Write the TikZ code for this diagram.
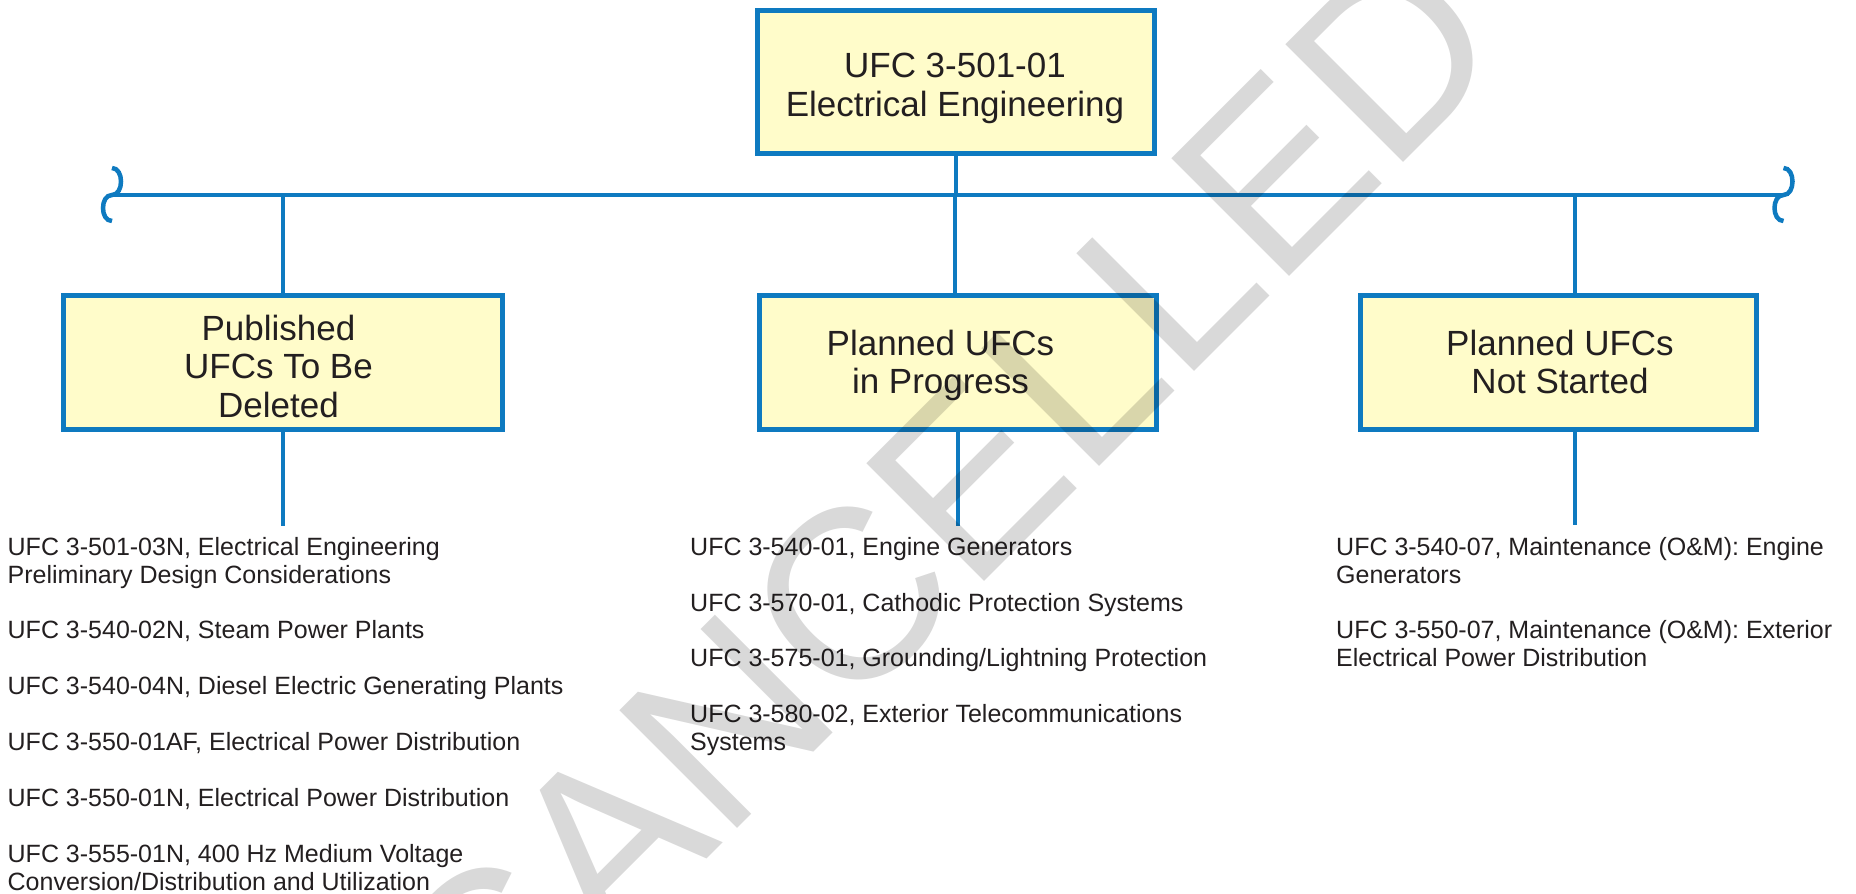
\documentclass[tikz,border=0pt]{standalone}
\usepackage{fontspec}
\setmainfont{Liberation Sans}
\definecolor{ufcblue}{HTML}{0E7AC0}
\definecolor{ufcfill}{HTML}{FFFCCA}
\definecolor{ufctext}{HTML}{231F20}
\tikzset{
  ufcbox/.style={draw=ufcblue, line width=5pt, fill=ufcfill, rectangle, inner sep=0pt},
  boxlabel/.style={anchor=north, inner sep=0pt, align=center, text=ufctext, font=\fontsize{35}{38.5}\selectfont},
  listtext/.style={anchor=north west, inner sep=0pt, align=left, text=ufctext, font=\fontsize{25}{27.9}\selectfont},
  conn/.style={draw=ufcblue, line width=4.5pt},
  bracecurl/.style={draw=ufcblue, line width=4.5pt},
  watermark/.style={font=\fontsize{242}{242}\selectfont, text=black, text opacity=0.15, rotate=45, anchor=base west, inner sep=0pt}
}
\begin{document}
\begin{tikzpicture}[x=1pt,y=-1pt]
\useasboundingbox (0,0) rectangle (1856,894);
\clip (0,0) rectangle (1856,894);
\fill[white] (0,0) rectangle (1856,894);

% boxes
\node[ufcbox, minimum width=397pt, minimum height=143pt] (root) at (956,82) {};
\node[ufcbox, minimum width=439.6pt, minimum height=134.6pt] (pub) at (283,362.5) {};
\node[ufcbox, minimum width=396.4pt, minimum height=134pt] (prog) at (958,362.2) {};
\node[ufcbox, minimum width=396pt, minimum height=134pt] (nots) at (1558.8,362.2) {};

% box texts
\node[boxlabel] (roott) at (955,47.3) {\rule{0pt}{30pt}UFC 3-501-01\\Electrical Engineering};
\node[boxlabel] (pubt) at (278.5,310) {\rule{0pt}{30pt}Published\\UFCs To Be\\Deleted};
\node[boxlabel] (progt) at (940.5,325) {\rule{0pt}{30pt}Planned UFCs\\in Progress};
\node[boxlabel] (notst) at (1560,325) {\rule{0pt}{30pt}Planned UFCs\\Not Started};

% bar and braces
\coordinate (bl) at (112,195);
\coordinate (br) at (1783.5,195);
\draw[conn] (bl) -- (br);
\draw[bracecurl] (112,168) .. controls (124,168) and (124,195) .. (bl) .. controls (100,195) and (100,221) .. (112,221);
\draw[bracecurl] (1783.5,168) .. controls (1795.5,168) and (1795.5,195) .. (br) .. controls (1771.5,195) and (1771.5,221) .. (1783.5,221);

% connectors
\draw[conn] (root.south) -- (root.south |- bl);
\draw[conn] (pub.north) -- (pub.north |- bl);
\path ([xshift=-3pt]prog.north) coordinate (pn);
\draw[conn] (pn) -- (pn |- bl);
\path ([xshift=16.2pt]nots.north) coordinate (nn);
\draw[conn] (nn) -- (nn |- bl);

\coordinate (pubend) at (283,526);
\coordinate (progend) at (958,526);
\coordinate (notsend) at (1575,525);
\draw[conn] (pub.south) -- (pubend);
\draw[conn] (prog.south) -- (progend);
\path ([xshift=16.2pt]nots.south) coordinate (ns);
\draw[conn] (ns) -- (notsend);

% lists
\node[listtext] (publist) at (7.5,529) {\rule{0pt}{26pt}UFC 3-501-03N, Electrical Engineering\\Preliminary Design Considerations\\[27.9pt]UFC 3-540-02N, Steam Power Plants\\[27.9pt]UFC 3-540-04N, Diesel Electric Generating Plants\\[27.9pt]UFC 3-550-01AF, Electrical Power Distribution\\[27.9pt]UFC 3-550-01N, Electrical Power Distribution\\[27.9pt]UFC 3-555-01N, 400 Hz Medium Voltage\\Conversion/Distribution and Utilization};
\node[listtext] (proglist) at (690,529) {\rule{0pt}{26pt}UFC 3-540-01, Engine Generators\\[27.9pt]UFC 3-570-01, Cathodic Protection Systems\\[27.9pt]UFC 3-575-01, Grounding/Lightning Protection\\[27.9pt]UFC 3-580-02, Exterior Telecommunications\\Systems};
\node[listtext] (notslist) at (1336,529) {\rule{0pt}{26pt}UFC 3-540-07, Maintenance (O\&M): Engine\\Generators\\[27.9pt]UFC 3-550-07, Maintenance (O\&M): Exterior\\Electrical Power Distribution};

% watermark
\node[watermark] (wm) at (486,1080) {CANCELLED};
\end{tikzpicture}
\end{document}
